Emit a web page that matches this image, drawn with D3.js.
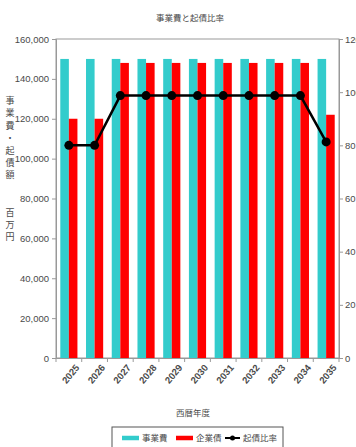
<!DOCTYPE html>
<html>
<head>
<meta charset="utf-8">
<script src="https://cdn.jsdelivr.net/npm/d3@7"></script>
<style>
  html, body { margin: 0; padding: 0; background: #fff; }
  svg { display: block; }
  text { font-family: "Liberation Sans", "Noto Sans CJK JP", sans-serif; }
  .jp { font-family: "Noto Sans CJK JP", sans-serif; }
</style>
</head>
<body>
<svg id="chart" width="356" height="447"></svg>
<script>
// Fiscal years
const years = ["2025", "2026", "2027", "2028", "2029", "2030", "2031", "2032", "2033", "2034", "2035"];
// 事業費 (百万円)
const projectCost = [150000, 150000, 150000, 150000, 150000, 150000, 150000, 150000, 150000, 150000, 150000];
// 企業債 (百万円)
const bonds = [120000, 120000, 148000, 148000, 148000, 148000, 148000, 148000, 148000, 148000, 122000];
// 起債比率 (%)
const bondRatio = [80.0, 80.0, 98.7, 98.7, 98.7, 98.7, 98.7, 98.7, 98.7, 98.7, 81.3];
// Axis ticks
const leftTicks = [0, 20000, 40000, 60000, 80000, 100000, 120000, 140000, 160000];
const rightTicks = [0, 20, 40, 60, 80, 100, 120];
// Legend entries
const seriesNames = ["事業費", "企業債", "起債比率"];

const CYAN = "#33CCCC", RED = "#FF0000", INK = "#4a4a4a";

const svg = d3.select("#chart");
const plot = { left: 56, right: 339, top: 39, bottom: 358 };

const x = d3.scaleBand().domain(years).range([plot.left, plot.right]);
const xSub = d3.scaleBand().domain(["cost", "bond"])
  .range([0, x.bandwidth()]).paddingOuter(0.5).paddingInner(0);
const yL = d3.scaleLinear().domain([0, 160000]).range([plot.bottom, plot.top]);
const yR = d3.scaleLinear().domain([0, 120]).range([plot.bottom, plot.top]);

// Title
svg.append("text").attr("class", "jp")
  .attr("x", 190).attr("y", 21).attr("text-anchor", "middle")
  .attr("font-size", 8.5).attr("fill", INK)
  .text("事業費と起債比率");

// Plot frame
svg.append("rect")
  .attr("x", plot.left).attr("y", plot.top)
  .attr("width", plot.right - plot.left).attr("height", plot.bottom - plot.top)
  .attr("fill", "none").attr("stroke", "#999").attr("stroke-width", 1);

// Bars
const groups = svg.append("g").selectAll("g").data(years).join("g")
  .attr("transform", d => `translate(${x(d)},0)`);
groups.append("rect")
  .attr("x", xSub("cost")).attr("width", xSub.bandwidth())
  .attr("y", (d, i) => yL(projectCost[i]))
  .attr("height", (d, i) => yL(0) - yL(projectCost[i]))
  .attr("fill", CYAN);
groups.append("rect")
  .attr("x", xSub("bond")).attr("width", xSub.bandwidth())
  .attr("y", (d, i) => yL(bonds[i]))
  .attr("height", (d, i) => yL(0) - yL(bonds[i]))
  .attr("fill", RED);

// Ratio line
const cx = d => x(d) + x.bandwidth() / 2;
const line = d3.line().x((d, i) => cx(years[i])).y(d => yR(d));
svg.append("path").datum(bondRatio)
  .attr("d", line).attr("fill", "none")
  .attr("stroke", "#000").attr("stroke-width", 2.5);
svg.append("g").selectAll("circle").data(bondRatio).join("circle")
  .attr("cx", (d, i) => cx(years[i])).attr("cy", d => yR(d))
  .attr("r", 4.5).attr("fill", "#000");

// Left axis
const axL = svg.append("g").attr("transform", `translate(${plot.left},0)`)
  .call(d3.axisLeft(yL).tickValues(leftTicks).tickSize(4).tickPadding(3)
    .tickFormat(d3.format(",")));
// Right axis
const axR = svg.append("g").attr("transform", `translate(${plot.right},0)`)
  .call(d3.axisRight(yR).tickValues(rightTicks).tickSize(4).tickPadding(2));
// Bottom axis
const axB = svg.append("g").attr("transform", `translate(0,${plot.bottom})`)
  .call(d3.axisBottom(x).tickSize(0).tickPadding(6));
// Tick marks between categories
svg.append("g").selectAll("line").data(d3.range(years.length + 1)).join("line")
  .attr("x1", i => plot.left + i * x.step()).attr("x2", i => plot.left + i * x.step())
  .attr("y1", plot.bottom).attr("y2", plot.bottom + 4)
  .attr("stroke", "#999");

[axL, axR, axB].forEach(g => {
  g.select(".domain").attr("stroke", "#999");
  g.selectAll(".tick line").attr("stroke", "#999");
  g.selectAll(".tick text").attr("font-size", 9.5).attr("fill", INK)
    .attr("font-family", "Liberation Sans, sans-serif");
});
axB.selectAll(".tick text")
  .attr("text-anchor", "end").attr("font-weight", "bold")
  .attr("dy", "0.35em")
  .attr("transform", "translate(4,4) rotate(-50)");

// Left axis title (vertical)
svg.append("text").attr("class", "jp")
  .attr("x", 10).attr("y", 96)
  .attr("font-size", 9).attr("fill", INK)
  .style("writing-mode", "vertical-rl")
  .style("letter-spacing", "3.4px")
  .text("事業費・起債額　　百万円");

// X axis title
svg.append("text").attr("class", "jp")
  .attr("x", 193).attr("y", 416).attr("text-anchor", "middle")
  .attr("font-size", 8.5).attr("fill", INK)
  .text("西暦年度");

// Legend
const legend = svg.append("g");
legend.append("rect")
  .attr("x", 112).attr("y", 427).attr("width", 171).attr("height", 24)
  .attr("fill", "#fff").attr("stroke", "#555").attr("stroke-width", 1);
const legendX = [122, 176, 225];
const legendLen = [17, 17, 15];
const legendColor = [CYAN, RED, "#000"];
const items = legend.selectAll("g.item").data(seriesNames).join("g")
  .attr("class", "item")
  .attr("transform", (d, i) => `translate(${legendX[i]},438)`);
items.append("line")
  .attr("x1", 0).attr("x2", (d, i) => legendLen[i])
  .attr("stroke", (d, i) => legendColor[i])
  .attr("stroke-width", (d, i) => i === 2 ? 2 : 4.5);
items.filter((d, i) => i === 2).append("circle")
  .attr("cx", 7.5).attr("r", 2.5).attr("fill", "#000");
items.append("text").attr("class", "jp")
  .attr("x", (d, i) => legendLen[i] + 3).attr("dy", "0.35em")
  .attr("font-size", 8.5).attr("fill", INK)
  .text(d => d);
</script>
</body>
</html>
